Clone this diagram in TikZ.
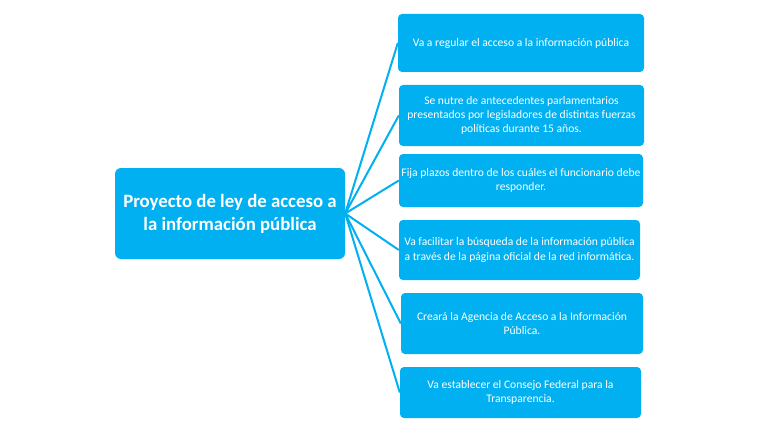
\documentclass[tikz,border=0pt]{standalone}
\usepackage{fontspec}
\setmainfont{Carlito}

\definecolor{cyanbox}{HTML}{00B0F0}

\begin{document}
\begin{tikzpicture}[
        x=1pt,
        y=-1pt,
        topic/.style={
            rectangle,
            rounded corners=6pt,
            fill=cyanbox,
            text=white,
            font=\bfseries\fontsize{18.8}{23}\selectfont,
            align=center,
            minimum width=230pt,
            minimum height=91pt,
        },
        item/.style={
            rectangle,
            rounded corners=4pt,
            fill=cyanbox,
            text=white,
            font=\fontsize{11.6}{14.2}\selectfont,
            align=center,
            inner sep=0pt,
        },
        branch/.style={
            draw=cyanbox,
            line width=2pt,
        },
    ]

    \useasboundingbox (0, 0) rectangle (770, 433);

    \node[topic] (law) at (230, 213.5) {Proyecto de ley de acceso a\\la información pública};

    \node[item, minimum width=246pt, minimum height=58pt] (i1) at (521, 43)
        {Va a regular el acceso a la información pública};
    \node[item, minimum width=245pt, minimum height=61pt] (i2) at (521.5, 115.5)
        {Se nutre de antecedentes parlamentarios\\presentados por legisladores de distintas fuerzas\\políticas durante 15 años.};
    \node[item, minimum width=244pt, minimum height=53pt] (i3) at (521, 180.5)
        {Fija plazos dentro de los cuáles el funcionario debe\\responder.};
    \node[item, minimum width=241pt, minimum height=60pt] (i4) at (519.5, 250)
        {Va facilitar la búsqueda de la información pública\\a través de la página oficial de la red informática.};
    \node[item, minimum width=242pt, minimum height=61pt] (i5) at (522, 323.5)
        {Creará la Agencia de Acceso a la Información\\Pública.};
    \node[item, minimum width=241pt, minimum height=51pt] (i6) at (520.5, 392.5)
        {Va establecer el Consejo Federal para la\\Transparencia.};

    \foreach \i in {1,...,6}
        \draw[branch] (law.east) -- (i\i.west);

\end{tikzpicture}
\end{document}
